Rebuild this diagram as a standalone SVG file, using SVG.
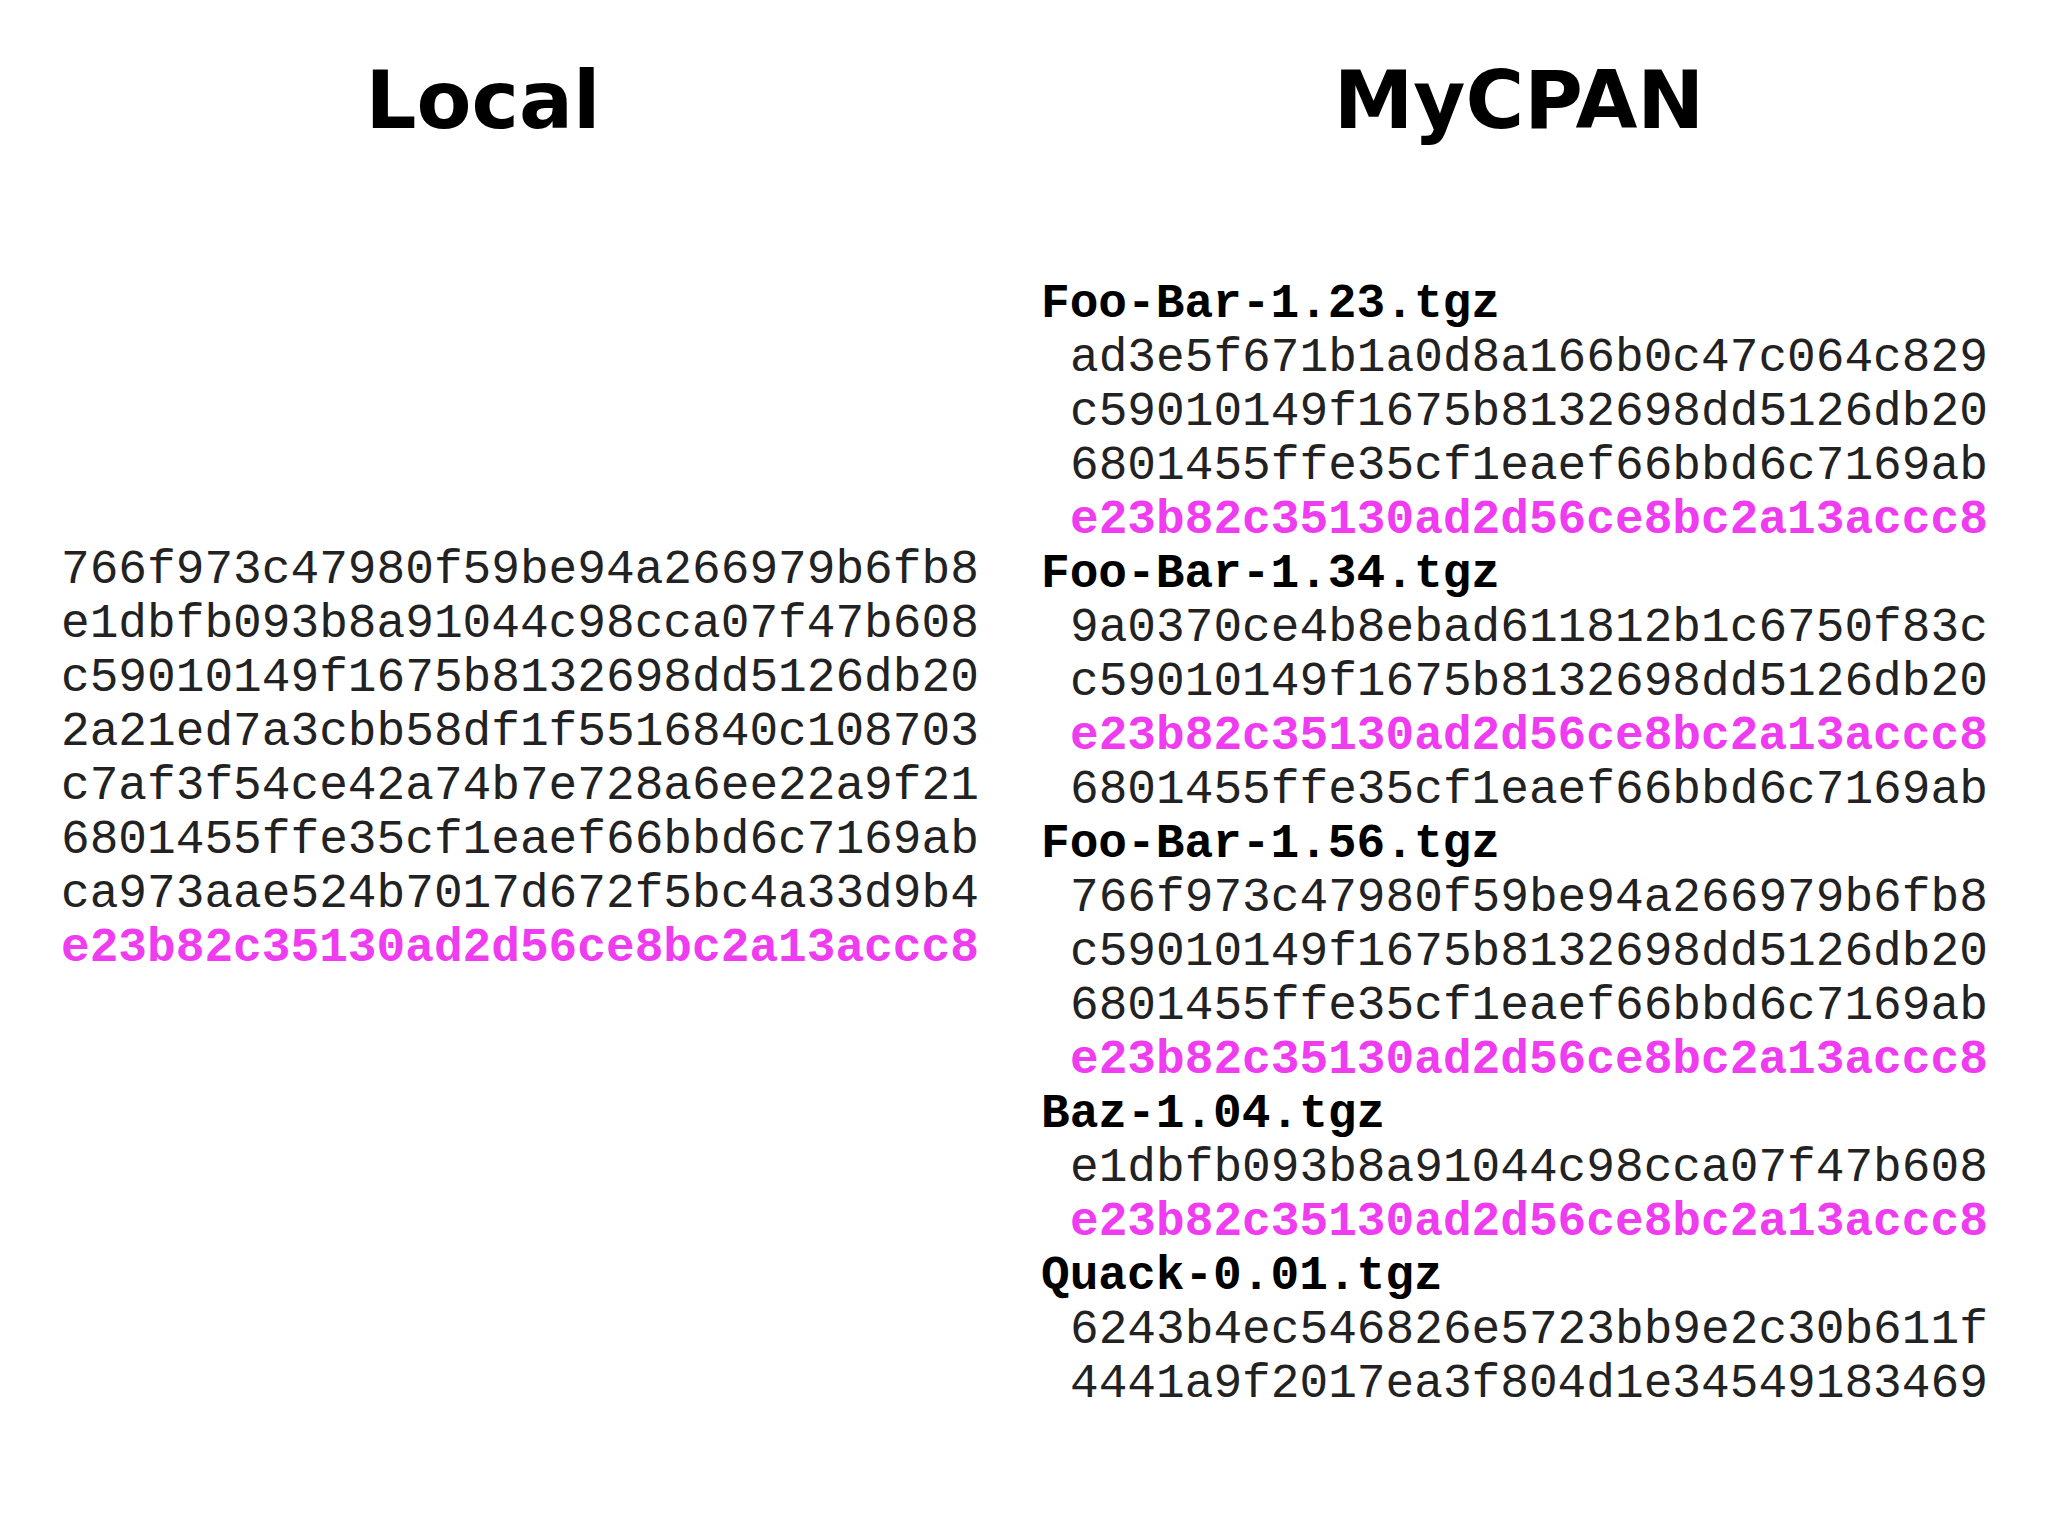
<svg xmlns="http://www.w3.org/2000/svg" width="2048" height="1536" viewBox="0 0 2048 1536">
<style>
.t{font-family:"DejaVu Sans","Liberation Sans",sans-serif;font-weight:bold;font-size:80px;text-anchor:middle;fill:#000}
.h{font-family:"Liberation Mono","Courier New",monospace;font-size:47.8px;fill:#222}
.b{font-weight:bold;fill:#000}
.m{font-weight:bold;fill:#f03cf0}
</style>
<rect width="2048" height="1536" fill="#fff"/>
<g id="local">
<text class="t" x="483" y="128">Local</text>
<text class="h" x="61" y="583">766f973c47980f59be94a266979b6fb8</text>
<text class="h" x="61" y="637">e1dbfb093b8a91044c98cca07f47b608</text>
<text class="h" x="61" y="691">c59010149f1675b8132698dd5126db20</text>
<text class="h" x="61" y="745">2a21ed7a3cbb58df1f5516840c108703</text>
<text class="h" x="61" y="799">c7af3f54ce42a74b7e728a6ee22a9f21</text>
<text class="h" x="61" y="853">6801455ffe35cf1eaef66bbd6c7169ab</text>
<text class="h" x="61" y="907">ca973aae524b7017d672f5bc4a33d9b4</text>
<text class="h m" x="61" y="961">e23b82c35130ad2d56ce8bc2a13accc8</text>
</g>
<g id="mycpan">
<text class="t" x="1519" y="128">MyCPAN</text>
<text class="h b" x="1041" y="317">Foo-Bar-1.23.tgz</text>
<text class="h" x="1070" y="371">ad3e5f671b1a0d8a166b0c47c064c829</text>
<text class="h" x="1070" y="425">c59010149f1675b8132698dd5126db20</text>
<text class="h" x="1070" y="479">6801455ffe35cf1eaef66bbd6c7169ab</text>
<text class="h m" x="1070" y="533">e23b82c35130ad2d56ce8bc2a13accc8</text>
<text class="h b" x="1041" y="587">Foo-Bar-1.34.tgz</text>
<text class="h" x="1070" y="641">9a0370ce4b8ebad611812b1c6750f83c</text>
<text class="h" x="1070" y="695">c59010149f1675b8132698dd5126db20</text>
<text class="h m" x="1070" y="749">e23b82c35130ad2d56ce8bc2a13accc8</text>
<text class="h" x="1070" y="803">6801455ffe35cf1eaef66bbd6c7169ab</text>
<text class="h b" x="1041" y="857">Foo-Bar-1.56.tgz</text>
<text class="h" x="1070" y="911">766f973c47980f59be94a266979b6fb8</text>
<text class="h" x="1070" y="965">c59010149f1675b8132698dd5126db20</text>
<text class="h" x="1070" y="1019">6801455ffe35cf1eaef66bbd6c7169ab</text>
<text class="h m" x="1070" y="1073">e23b82c35130ad2d56ce8bc2a13accc8</text>
<text class="h b" x="1041" y="1127">Baz-1.04.tgz</text>
<text class="h" x="1070" y="1181">e1dbfb093b8a91044c98cca07f47b608</text>
<text class="h m" x="1070" y="1235">e23b82c35130ad2d56ce8bc2a13accc8</text>
<text class="h b" x="1041" y="1289">Quack-0.01.tgz</text>
<text class="h" x="1070" y="1343">6243b4ec546826e5723bb9e2c30b611f</text>
<text class="h" x="1070" y="1397">4441a9f2017ea3f804d1e34549183469</text>
</g>
</svg>
